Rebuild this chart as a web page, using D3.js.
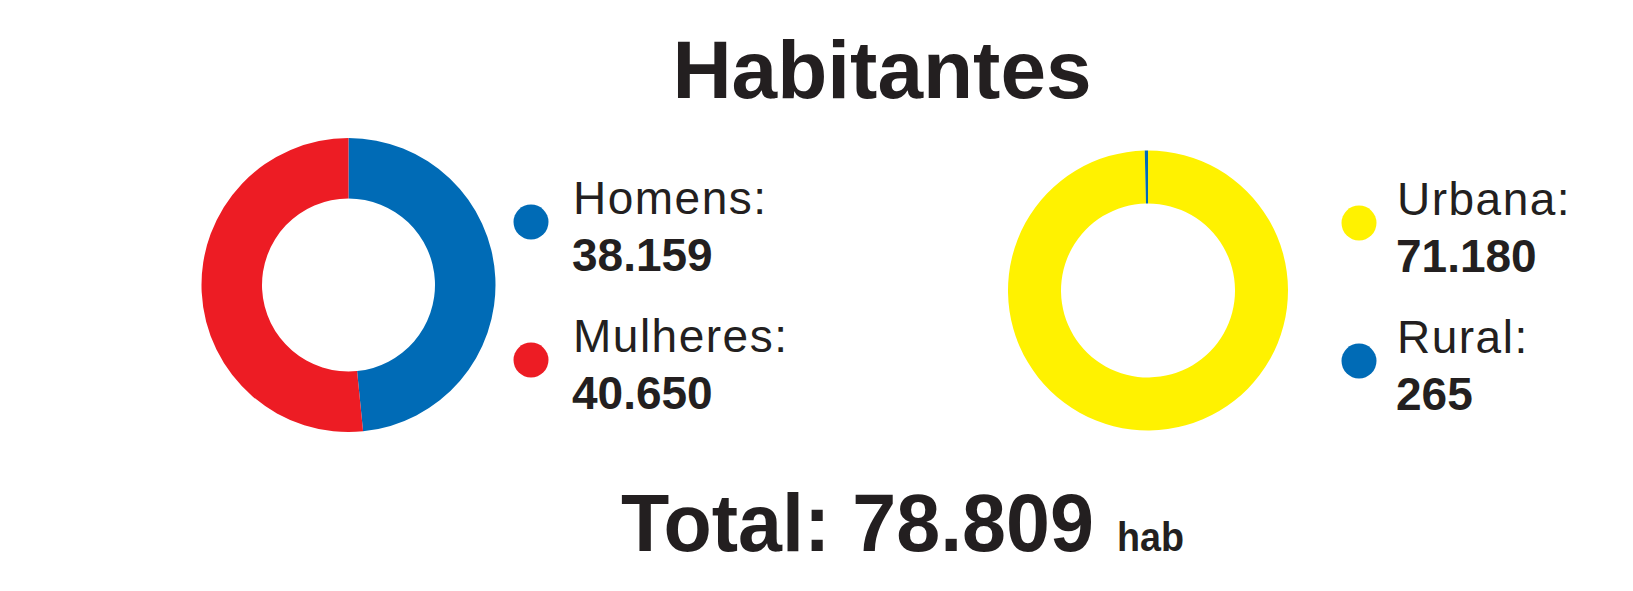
<!DOCTYPE html>
<html lang="pt-BR">
<head>
<meta charset="utf-8">
<title>Habitantes</title>
<script src="https://cdn.jsdelivr.net/npm/d3@7"></script>
<style>
  html, body { margin: 0; padding: 0; background: #fff; }
  svg { display: block; }
  text { font-family: "Liberation Sans", Arial, Helvetica, sans-serif; fill: #231f20; }
  .title { font-weight: bold; font-size: 82px; }
  .label { font-size: 46px; letter-spacing: 1.5px; }
  .value { font-weight: bold; font-size: 46px; }
  .total { font-weight: bold; font-size: 81px; }
  .unit { font-weight: bold; font-size: 40px; }
</style>
</head>
<body>
<svg class="chart"></svg>
<script>
(function () {
  "use strict";

  const titleText = "Habitantes";
  const sexLabels = ["Homens:", "Mulheres:"];
  const sexValues = [38159, 40650];
  const sexColors = ["#006bb6", "#ed1c24"];
  const areaLabels = ["Urbana:", "Rural:"];
  const areaValues = [71180, 265];
  const areaColors = ["#fff200", "#006bb6"];
  const totalUnit = "hab";

  const width = 1633;
  const height = 591;
  const ptBR = d3.formatLocale({ decimal: ",", thousands: ".", grouping: [3], currency: ["R$", ""] });
  const formatNumber = ptBR.format(",");

  const svg = d3.select(".chart")
    .attr("width", width)
    .attr("height", height)
    .attr("viewBox", [0, 0, width, height]);

  svg.append("text")
    .attr("class", "title")
    .attr("x", 882)
    .attr("y", 98)
    .attr("text-anchor", "middle")
    .text(titleText);

  function drawDonut(cfg) {
    const pie = d3.pie().sort(null).value(d => d);
    const arc = d3.arc().innerRadius(cfg.inner).outerRadius(cfg.outer);
    const g = svg.append("g").attr("transform", `translate(${cfg.cx},${cfg.cy})`);
    g.selectAll("path")
      .data(pie(cfg.values))
      .join("path")
      .attr("d", arc)
      .attr("fill", (d, i) => cfg.colors[i]);

    const rows = svg.append("g")
      .attr("transform", `translate(${cfg.legendX},0)`)
      .selectAll("g")
      .data(cfg.labels.map((label, i) => ({ label, value: cfg.values[i], color: cfg.colors[i], i })))
      .join("g")
      .attr("transform", d => `translate(0,${cfg.rowY[d.i]})`);

    rows.append("circle")
      .attr("cx", 0)
      .attr("cy", 6)
      .attr("r", 17.5)
      .attr("fill", d => d.color);

    rows.append("text")
      .attr("class", "label")
      .attr("x", cfg.textDx)
      .attr("y", -2)
      .text(d => d.label);

    rows.append("text")
      .attr("class", "value")
      .attr("x", cfg.textDx - 1)
      .attr("y", 55)
      .text(d => formatNumber(d.value));
  }

  drawDonut({
    cx: 348.5, cy: 285, outer: 147, inner: 86.5,
    values: sexValues, colors: sexColors, labels: sexLabels,
    legendX: 531, textDx: 42, rowY: [216, 354]
  });

  drawDonut({
    cx: 1148, cy: 290.5, outer: 140, inner: 87,
    values: areaValues, colors: areaColors, labels: areaLabels,
    legendX: 1359, textDx: 38, rowY: [217, 355]
  });

  const total = d3.sum(sexValues);
  svg.append("text")
    .attr("class", "total")
    .attr("x", 621)
    .attr("y", 551)
    .attr("textLength", 473)
    .attr("lengthAdjust", "spacingAndGlyphs")
    .text(`Total: ${formatNumber(total)}`);

  svg.append("text")
    .attr("class", "unit")
    .attr("x", 1117)
    .attr("y", 551)
    .attr("textLength", 67)
    .attr("lengthAdjust", "spacingAndGlyphs")
    .text(totalUnit);
})();
</script>
</body>
</html>
